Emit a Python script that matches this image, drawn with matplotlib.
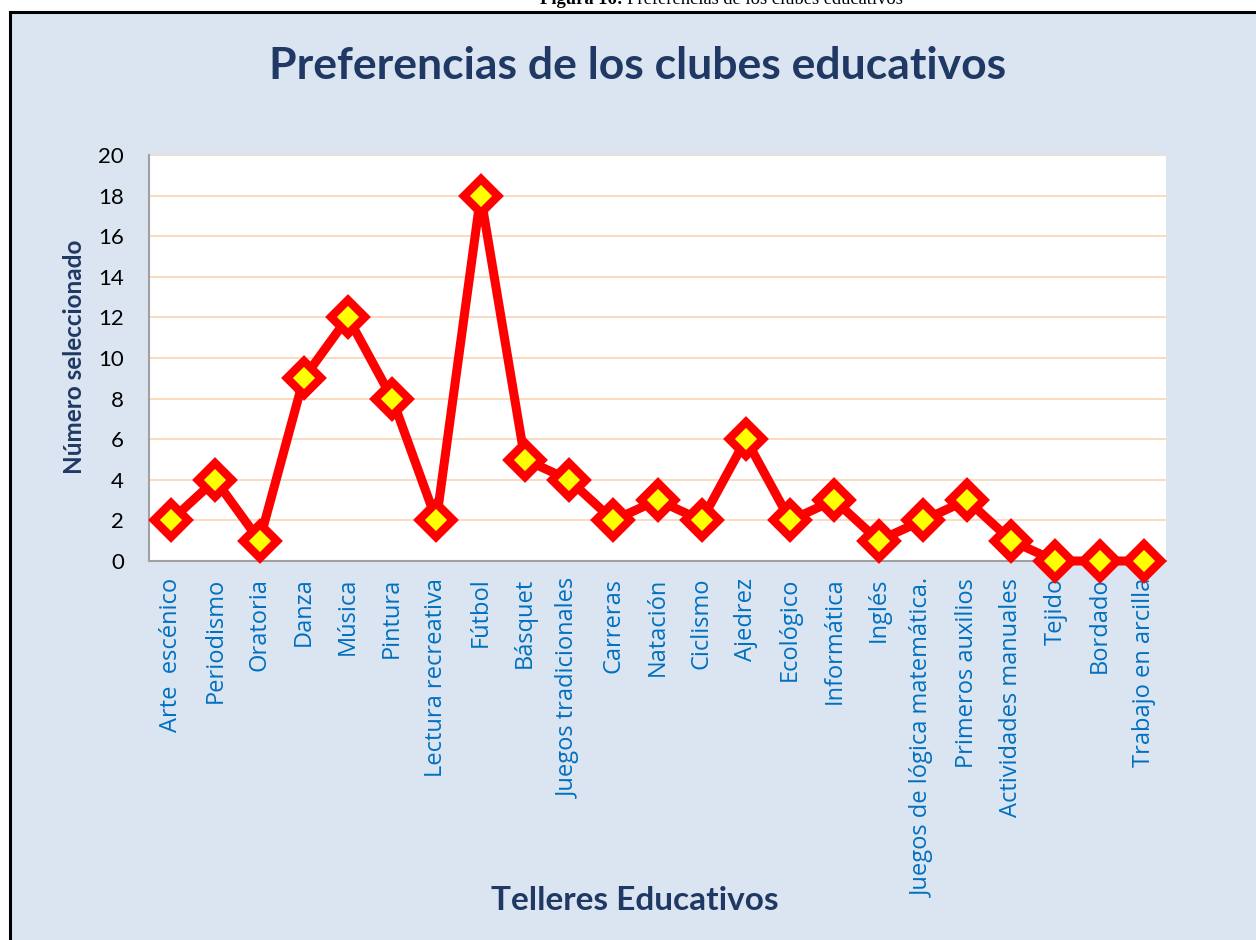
import matplotlib
matplotlib.use("Agg")
import matplotlib.pyplot as plt
from matplotlib.patches import Rectangle

categories = ["Arte  escénico", "Periodismo", "Oratoria", "Danza", "Música", "Pintura",
              "Lectura recreativa", "Fútbol", "Básquet", "Juegos tradicionales", "Carreras",
              "Natación", "Ciclismo", "Ajedrez", "Ecológico", "Informática", "Inglés",
              "Juegos de lógica matemática.", "Primeros auxilios", "Actividades manuales",
              "Tejido", "Bordado", "Trabajo en arcilla"]
values = [2, 4, 1, 9, 12, 8, 2, 18, 5, 4, 2, 3, 2, 6, 2, 3, 1, 2, 3, 1, 0, 0, 0]
yticks = [0, 2, 4, 6, 8, 10, 12, 14, 16, 18, 20]

W, H = 1256, 940
fig = plt.figure(figsize=(W / 100, H / 100), dpi=100, facecolor="white")

bg = "#DBE5F1"
navy = "#1F3864"
box = Rectangle((10 / W, -0.01), 1.02, 1 - 12 / H + 0.01, transform=fig.transFigure,
                facecolor=bg, edgecolor="black", linewidth=2.2, zorder=-10)
fig.patches.append(box)

fig.text(627 / W, 1 + 1 / H, "Figura 16: ", fontsize=13.3, family="Liberation Serif",
         fontweight="bold", ha="right", va="center")
fig.text(627 / W, 1 + 1 / H, "Preferencias de los clubes educativos", fontsize=13.3,
         family="Liberation Serif", ha="left", va="center")

fig.text(638 / W, 1 - 66 / H, "Preferencias de los clubes educativos", fontsize=32,
         family="Lato", fontweight="bold", color=navy, ha="center", va="center")

ax = fig.add_axes([149 / W, 1 - 561 / H, (1166 - 149) / W, (561 - 155) / H], zorder=1)
ax.set_facecolor("white")
x = list(range(len(categories)))
ax.plot(x, values, color="#FF0000", linewidth=6.5, marker="D", markersize=17,
        markerfacecolor="#FFFF00", markeredgecolor="#FF0000", markeredgewidth=6,
        zorder=3, clip_on=False)
ax.set_xlim(-0.5, len(categories) - 0.5)
ax.set_ylim(0, 20)
ax.set_yticks(yticks)
ax.set_yticklabels([str(v) for v in yticks], fontsize=16, family="Lato")
ax.set_xticks(x)
ax.set_xticklabels(categories, rotation=90, fontsize=17, family="Open Sans",
                   color="#0070C0", va="top", ha="center")
ax.tick_params(axis="y", length=0, pad=18)
ax.tick_params(axis="x", length=0, pad=12)
ax.grid(axis="y", color="#FBD4B4", linewidth=1.2, zorder=0)
ax.set_axisbelow(True)
for s in ["top", "right"]:
    ax.spines[s].set_visible(False)
for s in ["left", "bottom"]:
    ax.spines[s].set_color("#A0A0A0")
    ax.spines[s].set_linewidth(1.5)

fig.text(75 / W, 1 - 357 / H, "Número seleccionado", fontsize=17.5, family="Lato",
         fontweight="bold", color=navy, rotation=90, ha="center", va="center")
fig.text(635 / W, 1 - 901 / H, "Telleres Educativos", fontsize=24, family="Lato",
         fontweight="bold", color=navy, ha="center", va="center")

fig.savefig("out.png", dpi=100, facecolor="white")
